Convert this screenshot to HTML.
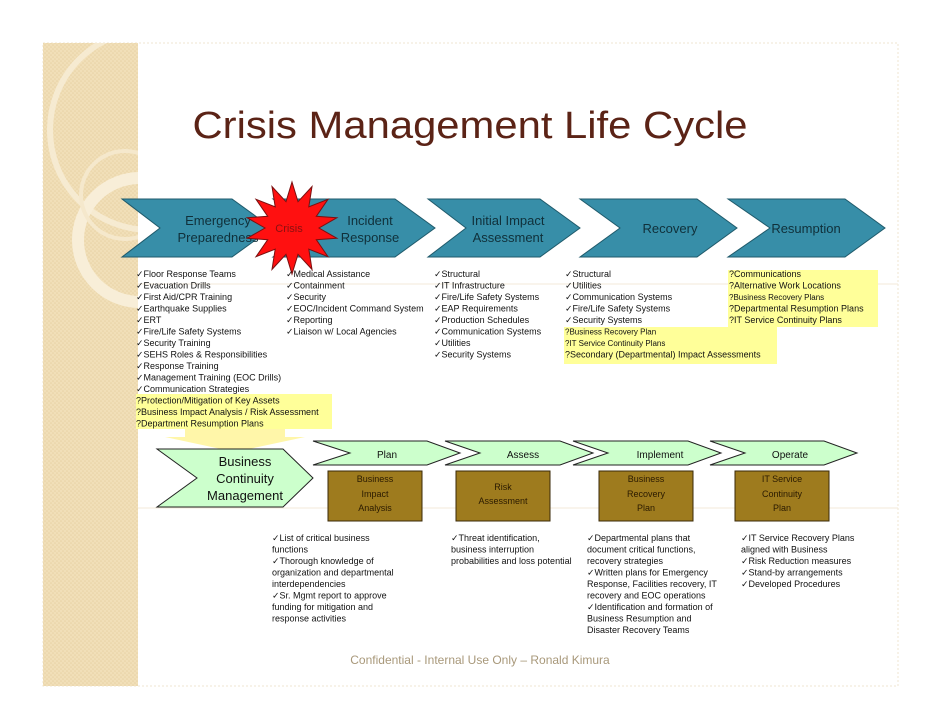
<!DOCTYPE html>
<html><head><meta charset="utf-8"><style>
html,body{margin:0;padding:0;background:#fff;}
svg{display:block;font-family:"Liberation Sans",sans-serif;}
</style></head><body>
<svg width="942" height="728" viewBox="0 0 942 728" xmlns="http://www.w3.org/2000/svg">
<defs>
<pattern id="dots" width="4" height="4" patternUnits="userSpaceOnUse"><rect width="4" height="4" fill="#f1dfb8"/><circle cx="1" cy="1" r="0.8" fill="#e8d2a4"/><circle cx="3" cy="3" r="0.8" fill="#e8d2a4"/></pattern>
<clipPath id="strip"><rect x="43" y="43" width="95" height="643"/></clipPath>
</defs>
<rect x="43" y="43" width="855" height="643" fill="#fff" stroke="#efe6d2" stroke-dasharray="2 2"/>
<rect x="43" y="43" width="95" height="643" fill="url(#dots)"/>
<g clip-path="url(#strip)">
<circle cx="150" cy="130" r="100" fill="none" stroke="#f8eed8" stroke-width="6" opacity="0.8"/>
<circle cx="140" cy="240" r="62" fill="none" stroke="#f8eed8" stroke-width="12"/>
<circle cx="125" cy="195" r="44" fill="none" stroke="#f5e8cc" stroke-width="4"/>
</g>
<line x1="138" y1="284" x2="898" y2="284" stroke="#f3ead8"/>
<line x1="138" y1="508" x2="898" y2="508" stroke="#f3ead8"/>

<text x="470" y="138" text-anchor="middle" font-size="38" fill="#5b2316" textLength="555" lengthAdjust="spacingAndGlyphs">Crisis Management Life Cycle</text>

<g fill="#378ea8" stroke="#1f5a6b" stroke-width="1">
<polygon points="122,199 232,199 272,228 232,257 122,257 160,228"/>
<polygon points="273,199 395,199 435,228 395,257 273,257 311,228"/>
<polygon points="428,199 540,199 580,228 540,257 428,257 466,228"/>
<polygon points="580,199 697,199 737,228 697,257 580,257 620,228"/>
<polygon points="728,199 845,199 885,228 845,257 728,257 770,228"/>
</g>
<g font-size="13" fill="#10303a" text-anchor="middle">
<text x="218" y="225">Emergency</text><text x="218" y="242">Preparedness</text>
<text x="370" y="225">Incident</text><text x="370" y="242">Response</text>
<text x="508" y="225">Initial Impact</text><text x="508" y="242">Assessment</text>
<text x="670" y="233">Recovery</text>
<text x="806" y="233">Resumption</text>
</g>
<polygon fill="#ff1010" stroke="#7a1010" stroke-width="1" points="292,182 298,201.7 312,186.6 308.8,206.9 328,199.3 316.3,216.3 336.9,217.7 319,228 336.9,238.3 316.3,239.7 328,256.7 308.8,249.1 312,269.4 298,254.3 292,274 286,254.3 272,269.4 275.2,249.1 256,256.7 267.7,239.7 247.1,238.3 265,228 247.1,217.7 267.7,216.3 256,199.3 275.2,206.9 272,186.6 286,201.7"/>
<text x="289" y="232" font-size="11" fill="#8a1010" text-anchor="middle">Crisis</text>

<g fill="#ffff99">
<rect x="136" y="394" width="196" height="35"/>
<rect x="564" y="327" width="213" height="37"/>
<rect x="728" y="270" width="150" height="57"/>
</g>
<g font-size="9" fill="#111">
<text x="136" y="277">✓Floor Response Teams</text>
<text x="136" y="288.5">✓Evacuation Drills</text>
<text x="136" y="300">✓First Aid/CPR Training</text>
<text x="136" y="311.5">✓Earthquake Supplies</text>
<text x="136" y="323">✓ERT</text>
<text x="136" y="334.5">✓Fire/Life Safety Systems</text>
<text x="136" y="346">✓Security Training</text>
<text x="136" y="357.5">✓SEHS Roles &amp; Responsibilities</text>
<text x="136" y="369">✓Response Training</text>
<text x="136" y="380.5">✓Management Training (EOC Drills)</text>
<text x="136" y="392">✓Communication Strategies</text>
<text x="136" y="403.5">?Protection/Mitigation of Key Assets</text>
<text x="136" y="415">?Business Impact Analysis / Risk Assessment</text>
<text x="136" y="426.5">?Department Resumption Plans</text>

<text x="286" y="277">✓Medical Assistance</text>
<text x="286" y="288.5">✓Containment</text>
<text x="286" y="300">✓Security</text>
<text x="286" y="311.5">✓EOC/Incident Command System</text>
<text x="286" y="323">✓Reporting</text>
<text x="286" y="334.5">✓Liaison w/ Local Agencies</text>

<text x="434" y="277">✓Structural</text>
<text x="434" y="288.5">✓IT Infrastructure</text>
<text x="434" y="300">✓Fire/Life Safety Systems</text>
<text x="434" y="311.5">✓EAP Requirements</text>
<text x="434" y="323">✓Production Schedules</text>
<text x="434" y="334.5">✓Communication Systems</text>
<text x="434" y="346">✓Utilities</text>
<text x="434" y="357.5">✓Security Systems</text>

<text x="565" y="277">✓Structural</text>
<text x="565" y="288.5">✓Utilities</text>
<text x="565" y="300">✓Communication Systems</text>
<text x="565" y="311.5">✓Fire/Life Safety Systems</text>
<text x="565" y="323">✓Security Systems</text>
<text x="565" y="334.5" font-size="8">?Business Recovery Plan</text>
<text x="565" y="346" font-size="8">?IT Service Continuity Plans</text>
<text x="565" y="357.5">?Secondary (Departmental) Impact Assessments</text>

<text x="729" y="277">?Communications</text>
<text x="729" y="288.5">?Alternative Work Locations</text>
<text x="729" y="300" font-size="8">?Business Recovery Plans</text>
<text x="729" y="311.5">?Departmental Resumption Plans</text>
<text x="729" y="323">?IT Service Continuity Plans</text>
</g>

<polygon points="185,429 285,429 285,437 305,437 235,452 165,437 185,437" fill="#fff5a0" opacity="0.9"/>

<g fill="#ccffcc" stroke="#222" stroke-width="1">
<polygon points="157,449 283,449 313,478 283,507 157,507 197,478"/>
<polygon points="313,441 427,441 460,453 427,465 313,465 350,453"/>
<polygon points="445,441 560,441 593,453 560,465 445,465 480,453"/>
<polygon points="573,441 688,441 721,453 688,465 573,465 608,453"/>
<polygon points="710,441 824,441 857,453 824,465 710,465 745,453"/>
</g>
<g font-size="13" fill="#111" text-anchor="middle">
<text x="245" y="466">Business</text><text x="245" y="483">Continuity</text><text x="245" y="500">Management</text>
</g>
<g font-size="10" fill="#111" text-anchor="middle">
<text x="387" y="458">Plan</text><text x="523" y="458">Assess</text><text x="660" y="458">Implement</text><text x="790" y="458">Operate</text>
</g>
<g fill="#9e7b1e" stroke="#3a2a08" stroke-width="1">
<rect x="328" y="471" width="94" height="50"/>
<rect x="456" y="471" width="94" height="50"/>
<rect x="599" y="471" width="94" height="50"/>
<rect x="735" y="471" width="94" height="50"/>
</g>
<g font-size="9" fill="#2a1a00" text-anchor="middle">
<text x="375" y="482">Business</text><text x="375" y="497">Impact</text><text x="375" y="511">Analysis</text>
<text x="503" y="490">Risk</text><text x="503" y="504">Assessment</text>
<text x="646" y="482">Business</text><text x="646" y="497">Recovery</text><text x="646" y="511">Plan</text>
<text x="782" y="482">IT Service</text><text x="782" y="497">Continuity</text><text x="782" y="511">Plan</text>
</g>

<g font-size="9" fill="#111">
<text x="272" y="541">✓List of critical business</text>
<text x="272" y="552.5">functions</text>
<text x="272" y="564">✓Thorough knowledge of</text>
<text x="272" y="575.5">organization and departmental</text>
<text x="272" y="587">interdependencies</text>
<text x="272" y="598.5">✓Sr. Mgmt report to approve</text>
<text x="272" y="610">funding for mitigation and</text>
<text x="272" y="621.5">response activities</text>

<text x="451" y="541">✓Threat identification,</text>
<text x="451" y="552.5">business interruption</text>
<text x="451" y="564">probabilities and loss potential</text>

<text x="587" y="541">✓Departmental plans that</text>
<text x="587" y="552.5">document critical functions,</text>
<text x="587" y="564">recovery strategies</text>
<text x="587" y="575.5">✓Written plans for Emergency</text>
<text x="587" y="587">Response, Facilities recovery, IT</text>
<text x="587" y="598.5">recovery and EOC operations</text>
<text x="587" y="610">✓Identification and formation of</text>
<text x="587" y="621.5">Business Resumption and</text>
<text x="587" y="633">Disaster Recovery Teams</text>

<text x="741" y="541">✓IT Service Recovery Plans</text>
<text x="741" y="552.5">aligned with Business</text>
<text x="741" y="564">✓Risk Reduction measures</text>
<text x="741" y="575.5">✓Stand-by arrangements</text>
<text x="741" y="587">✓Developed Procedures</text>
</g>

<text x="480" y="664" font-size="12" fill="#a8987a" text-anchor="middle">Confidential - Internal Use Only – Ronald Kimura</text>
</svg>
</body></html>
